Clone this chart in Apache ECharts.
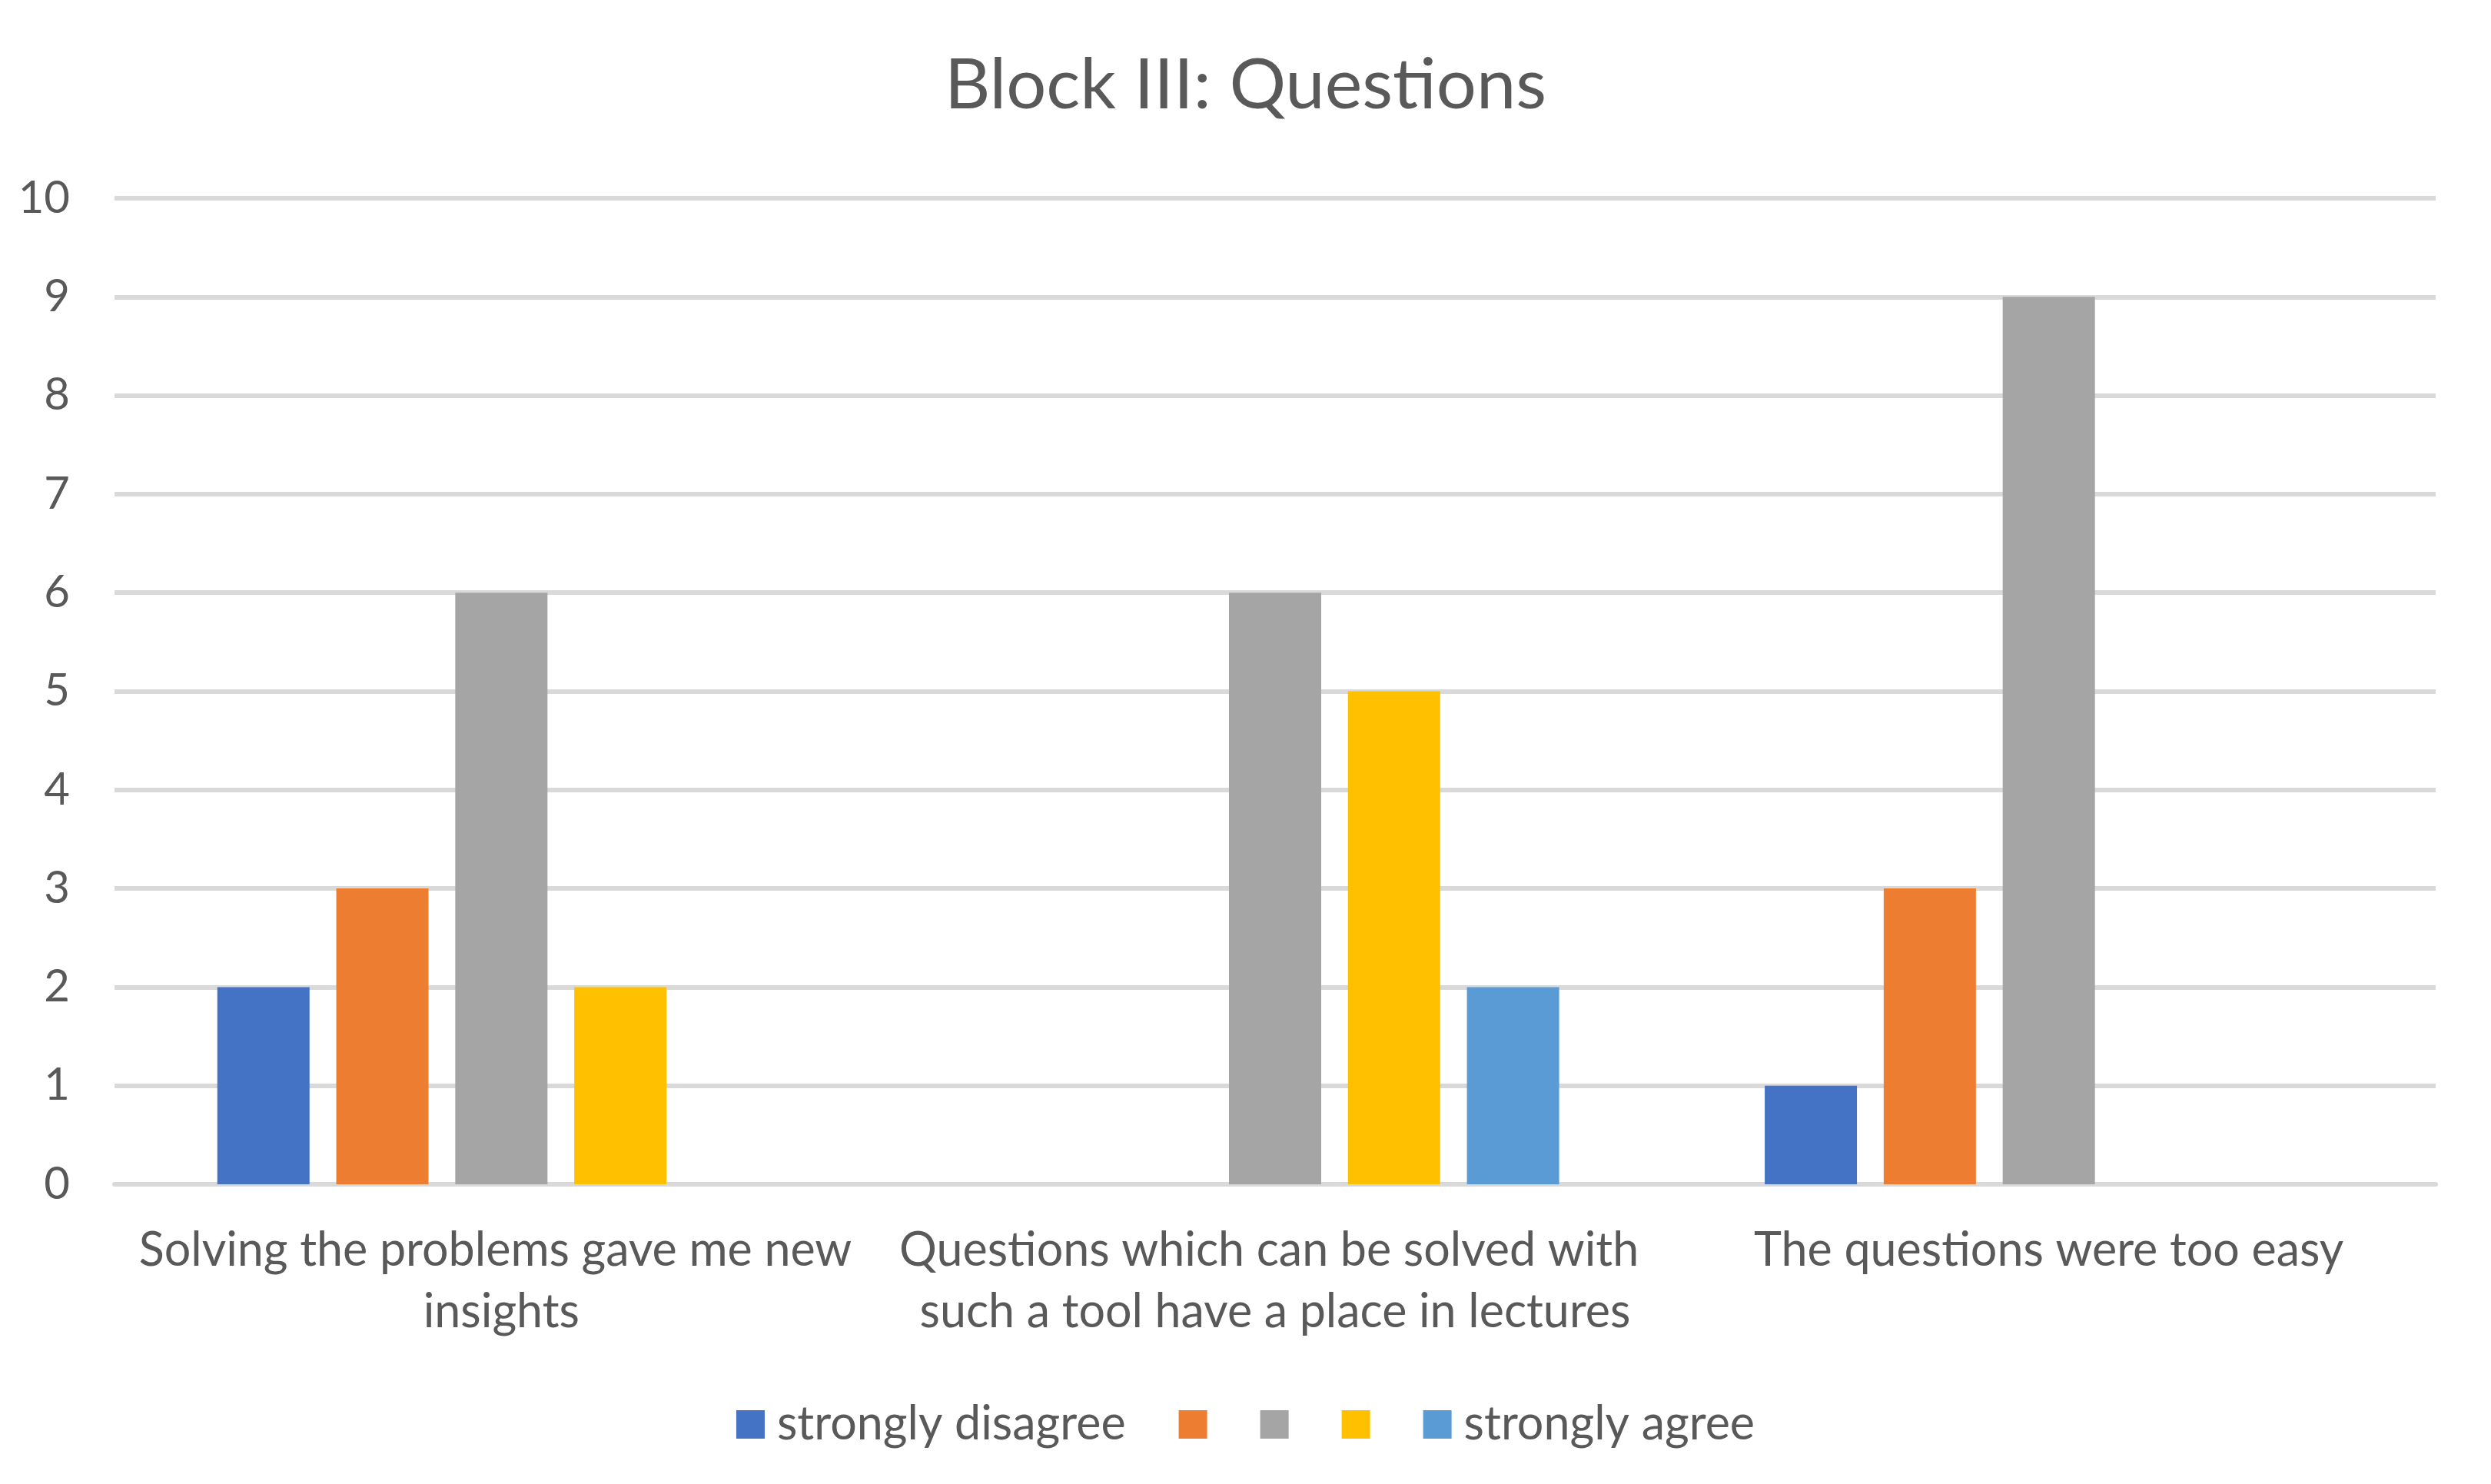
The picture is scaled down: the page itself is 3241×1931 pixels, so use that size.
<!DOCTYPE html>
<html>
<head>
<meta charset="utf-8">
<script src="https://cdn.jsdelivr.net/npm/echarts@6/dist/echarts.min.js"></script>
<style>
html,body{margin:0;padding:0;background:#fff;}
#chart{width:3241px;height:1931px;}
</style>
</head>
<body>
<div id="chart"></div>
<script>
const titleText = "Block III: Questions";
const categories = [
  "Solving the problems gave me new insights",
  "Questions which can be solved with such a tool have a place in lectures",
  "The questions were too easy"
];
const seriesNames = ["strongly disagree", "2", "3", "4", "strongly agree"];
const legendLabels = ["strongly disagree", "", "", "", "strongly agree"];
const seriesColors = ["#4472C4", "#ED7D31", "#A5A5A5", "#FFC000", "#5B9BD5"];
const stronglyDisagree = [2, 0, 1];
const level2 = [3, 0, 3];
const level3 = [6, 6, 9];
const level4 = [2, 5, 0];
const stronglyAgree = [0, 2, 0];
const yTicks = [0, 1, 2, 3, 4, 5, 6, 7, 8, 9, 10];

const values = [stronglyDisagree, level2, level3, level4, stronglyAgree];
const font = "Lato";
const textColor = "#595959";

const chart = echarts.init(document.getElementById('chart'));
chart.setOption({
  backgroundColor: '#fff',
  animation: false,
  title: {
    text: titleText,
    left: 'center',
    top: 60,
    textStyle: { fontFamily: font, fontSize: 92, fontWeight: 'normal', color: textColor }
  },
  legend: {
    data: seriesNames,
    left: 'center',
    top: 1818,
    itemWidth: 37,
    itemHeight: 37,
    itemGap: 69,
    icon: 'rect',
    formatter: function (name) { return legendLabels[seriesNames.indexOf(name)]; },
    textStyle: { fontFamily: font, fontSize: 61, color: textColor, padding: [0, 0, 0, 11] }
  },
  grid: { left: 149, right: 72, top: 258, bottom: 390, containLabel: false },
  xAxis: {
    type: 'category',
    data: categories,
    axisLine: { lineStyle: { color: '#d9d9d9', width: 6 } },
    axisTick: { show: false },
    axisLabel: {
      fontFamily: font, fontSize: 61, color: textColor,
      margin: 46, lineHeight: 80,
      width: 990, overflow: 'break', interval: 0
    }
  },
  yAxis: {
    type: 'value',
    min: yTicks[0],
    max: yTicks[yTicks.length - 1],
    interval: 1,
    axisLine: { show: false },
    axisTick: { show: false },
    splitLine: { lineStyle: { color: '#d9d9d9', width: 6 } },
    axisLabel: { fontFamily: font, fontSize: 58, color: textColor, margin: 58 }
  },
  series: seriesNames.map((n, i) => ({
    name: n,
    type: 'bar',
    data: values[i],
    barWidth: 120,
    barGap: '29%',
    itemStyle: { color: seriesColors[i] }
  }))
});
</script>
</body>
</html>
